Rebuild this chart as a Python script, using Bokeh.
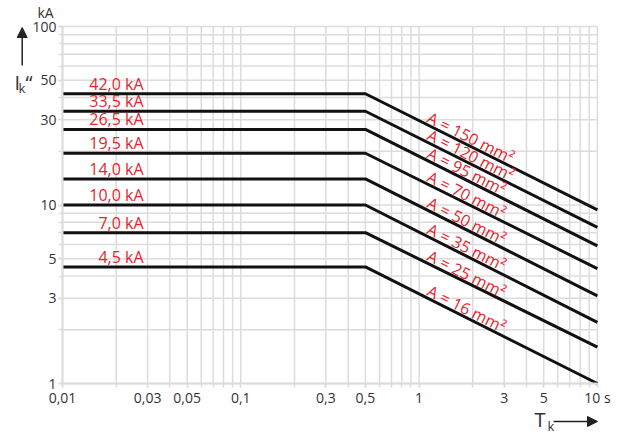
import math
from bokeh.plotting import figure
from bokeh.models import FixedTicker, Label, Arrow, NormalHead
from bokeh.core.properties import value
from bokeh.embed import file_html
from bokeh.resources import INLINE

# ---- data ----
currents = [42.0, 33.5, 26.5, 19.5, 14.0, 10.0, 7.0, 4.5]          # kA (flat part)
current_labels = ["42,0 kA", "33,5 kA", "26,5 kA", "19,5 kA", "14,0 kA", "10,0 kA", "7,0 kA", "4,5 kA"]
areas = ["A = 150 mm²", "A = 120 mm²", "A = 95 mm²", "A = 70 mm²", "A = 50 mm²", "A = 35 mm²", "A = 25 mm²", "A = 16 mm²"]
end_values = [9.4, 7.5, 5.9, 4.4, 3.1, 2.2, 1.6, 1.0]               # kA at 10 s
t_start = 0.01
t_knee = 0.5
t_end = 10.0

x_ticks = [0.01, 0.03, 0.05, 0.1, 0.3, 0.5, 1, 3, 5, 10]
x_tick_labels = ["0,01", "0,03", "0,05", "0,1", "0,3", "0,5", "1", "3", "5", "10 s"]
y_ticks = [1, 3, 5, 10, 30, 50, 100]
y_tick_labels = ["1", "3", "5", "10", "30", "50", "100"]
minor_mult = [1, 2, 3, 4, 5, 6, 7, 8, 9]
x_decades = [0.01, 0.1, 1]
y_decades = [1, 10]
x_lim = (0.01, 10.0)
y_lim = (1.0, 100.0)

FONT = "Open Sans"
RED = "#e8232d"
GRID = "#dcdcdc"
TXT = "#333333"

# ---- layout (pixels in the 621x435 canvas) ----
W, H = 621, 435
X0, XPD = 62.0, 178.3     # pixel of x_lim[0], pixels per decade
Y0, YPD = 383.0, 178.5    # pixel of y_lim[0], pixels per decade

def dx(px):
    return x_lim[0] * 10 ** ((px - X0) / XPD)
def dy(py):
    return y_lim[0] * 10 ** ((Y0 - py) / YPD)

p = figure(width=W, height=H, x_axis_type="log", y_axis_type="log",
           x_range=(dx(0), dx(W)), y_range=(dy(H), dy(0)),
           output_backend="svg", toolbar_location=None, min_border=0)
p.outline_line_color = None
p.background_fill_color = "white"
p.border_fill_color = "white"
p.grid.visible = False

x_minor = [m * d for d in x_decades for m in minor_mult] + [x_lim[1]]
y_minor = [m * d for d in y_decades for m in minor_mult] + [y_lim[1]]

# grid lines restricted to the chart area
p.segment(x0=x_minor, y0=[y_lim[0]] * len(x_minor), x1=x_minor, y1=[y_lim[1]] * len(x_minor),
          line_color=GRID, line_width=1.5)
p.segment(x0=[x_lim[0]] * len(y_minor), y0=y_minor, x1=[x_lim[1]] * len(y_minor), y1=y_minor,
          line_color=GRID, line_width=1.5)

xa, ya = p.xaxis[0], p.yaxis[0]
xa.fixed_location = y_lim[0]
ya.fixed_location = x_lim[0]
xa.bounds = x_lim
ya.bounds = y_lim
xa.ticker = FixedTicker(ticks=x_ticks, minor_ticks=x_minor)
ya.ticker = FixedTicker(ticks=y_ticks, minor_ticks=y_minor)
xa.major_label_overrides = {float(k): v for k, v in zip(x_ticks, x_tick_labels)}
ya.major_label_overrides = {float(k): v for k, v in zip(y_ticks, y_tick_labels)}

for ax in (xa, ya):
    ax.axis_line_color = GRID
    ax.axis_line_width = 2
    ax.major_tick_line_color = GRID
    ax.minor_tick_line_color = GRID
    ax.major_tick_line_width = 1.5
    ax.minor_tick_line_width = 1.5
    ax.major_tick_out = 4
    ax.minor_tick_out = 4
    ax.major_tick_in = 0
    ax.minor_tick_in = 0
    ax.major_label_text_font = FONT
    ax.major_label_text_font_size = "14px"
    ax.major_label_text_color = TXT
xa.major_label_standoff = 0
ya.major_label_standoff = 2

# ---- curves ----
xs = [[t_start, t_knee, t_end] for _ in currents]
ys = [[c, c, e] for c, e in zip(currents, end_values)]
p.multi_line(xs=xs, ys=ys, line_color="#111111", line_width=3)

# flat-part labels
lab_x = dx(143)
p.text(x=[lab_x] * len(currents), y=currents, text=current_labels,
       text_font=value(FONT), text_font_size="16px", text_color=RED,
       text_align="right", text_baseline="alphabetic", y_offset=-10)

# slope labels (placed on each line at a common time)
t_lab = dx(428)
def on_line(c, e, t):
    f = (math.log10(t) - math.log10(t_knee)) / (math.log10(t_end) - math.log10(t_knee))
    return 10 ** (math.log10(c) + f * (math.log10(e) - math.log10(c)))
slope_y = [on_line(c, e, t_lab) for c, e in zip(currents, end_values)]
ang = -math.atan(0.5 * YPD / XPD)
p.text(x=[t_lab] * len(areas), y=slope_y, text=areas,
       text_font=value(FONT), text_font_size="16px", text_color=RED,
       text_align="left", text_baseline="alphabetic", angle=ang, y_offset=-9)

# ---- axis titles ----
def lab(txt, px, py, size, align="left"):
    p.add_layout(Label(x=dx(px), y=dy(py), text=txt, text_font=FONT, text_font_size=size,
                       text_color=TXT, text_align=align, text_baseline="alphabetic"))

lab("kA", 45, 12, "14px", "center")
lab("I", 14, 82, "20px")
lab("k", 18, 87, "13px")
lab("“", 25, 82, "20px")
lab("T", 534, 419, "20px")
lab("k", 547, 425, "13px")

p.add_layout(Arrow(x_start=dx(21.7), y_start=dy(65), x_end=dx(21.7), y_end=dy(27),
                   line_color="#222222", line_width=1.5,
                   end=NormalHead(size=10, fill_color="#222222", line_color="#222222")))
p.add_layout(Arrow(x_start=dx(553), y_start=dy(421), x_end=dx(597), y_end=dy(421),
                   line_color="#222222", line_width=1.5,
                   end=NormalHead(size=10, fill_color="#222222", line_color="#222222")))

open("out.html", "w").write(file_html(p, INLINE))
